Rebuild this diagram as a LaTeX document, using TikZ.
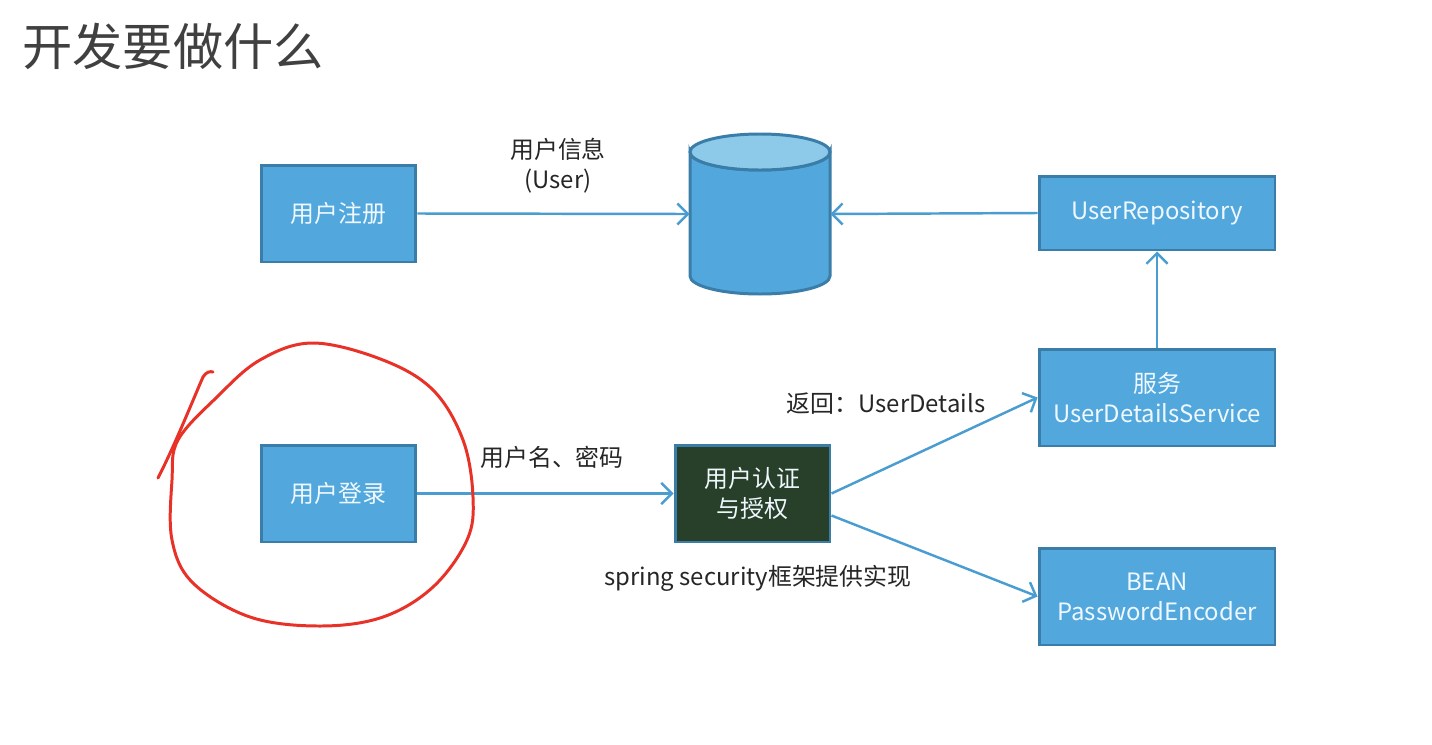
\documentclass[tikz,border=0pt]{standalone}
\usepackage{fontspec}
\setmainfont{Noto Sans CJK SC}
\usetikzlibrary{arrows.meta,calc}
\definecolor{boxfill}{RGB}{82,168,220}
\definecolor{boxedge}{RGB}{58,125,168}
\definecolor{cyltop}{RGB}{141,202,233}
\definecolor{darkbox}{RGB}{40,64,42}
\definecolor{conn}{RGB}{74,157,208}
\definecolor{titlegray}{RGB}{64,64,64}
\definecolor{redpen}{RGB}{232,50,40}
\definecolor{boxtext}{RGB}{240,248,255}
\tikzset{
  bluebox/.style={draw=boxedge, fill=boxfill, line width=1.7pt, inner sep=0pt,
    text=boxtext, align=center, font=\fontsize{13.6}{17}\selectfont},
  smallbox/.style={bluebox, minimum width=3.1cm, minimum height=1.94cm},
  widebox/.style={bluebox, minimum width=4.72cm, minimum height=1.94cm},
  conn/.style={draw=conn, line width=1.4pt, -{Straight Barb[length=6pt,width=12pt,line width=1.4pt]}},
  lbl/.style={text=black!85, align=center, font=\fontsize{13.6}{17}\selectfont, inner sep=0pt}
}
\begin{document}
\begin{tikzpicture}[x=0.02cm,y=-0.02cm]
\useasboundingbox[fill=white] (0,0) rectangle (1432,744);

% title
\node[anchor=west, text=titlegray, font=\fontsize{28.6}{31}\selectfont, inner sep=0pt] (title) at (22,46) {开发要做什么};

% boxes
\node[smallbox] (reg) at (338.5,213.5) {用户注册};
\node[smallbox] (login) at (338.5,493.5) {用户登录};
\node[smallbox, fill=darkbox] (auth) at (752.5,493.5) {用户认证\\与授权};
\node[widebox, minimum height=1.48cm] (repo) at (1157,213) {UserRepository};
\node[widebox] (svc) at (1157,397.5) {服务\\UserDetailsService};
\node[widebox] (enc) at (1157,596.5) {BEAN\\PasswordEncoder};

% database cylinder
\node[minimum width=2.8cm, minimum height=3.2cm, inner sep=0pt] (db) at (760,214) {};
\draw[draw=boxedge, fill=boxfill, line width=1.7pt]
  (690,152) -- (690,276) arc[start angle=180, end angle=360, x radius=70, y radius=-18]
  -- (830,152) arc[start angle=0, end angle=180, x radius=70, y radius=18] -- cycle;
\draw[draw=boxedge, fill=cyltop, line width=1.7pt] (760,152) ellipse[x radius=70, y radius=18];

% connectors
\draw[conn] (reg.east) -- (db.west);
\draw[conn] (repo.west) -- (db.east);
\draw[conn] (svc.north) -- (repo.south);
\draw[conn] (login.east) -- (auth.west);
\draw[conn] (auth.east) -- (svc.west);
\draw[conn] ([yshift=-0.44cm]auth.east) -- (enc.west);

% labels
\node[lbl] (l1) at (558,166) {用户信息\\(User)};
\node[lbl] (l2) at (886,404) {返回：UserDetails};
\node[lbl] (l3) at (552,457) {用户名、密码};
\node[lbl] (l4) at (758,578) {spring security框架提供实现};

% red hand-drawn circle
\draw[redpen, line width=1.7pt, line cap=round, line join=round]
  plot[smooth cycle, tension=0.6] coordinates {
   (313,343) (383,360) (433,390) (463,440) (473,497) (467,540) (433,587)
   (383,617) (320,626) (250,617) (193,583) (172,540) (172,480) (178,440)
   (217,397) (260,360)};
\draw[redpen, line width=1.7pt, line cap=round]
  (158,478) .. controls (175,445) and (195,395) .. (203,377)
  .. controls (206,372) and (210,371) .. (213,372);
\end{tikzpicture}
\end{document}
